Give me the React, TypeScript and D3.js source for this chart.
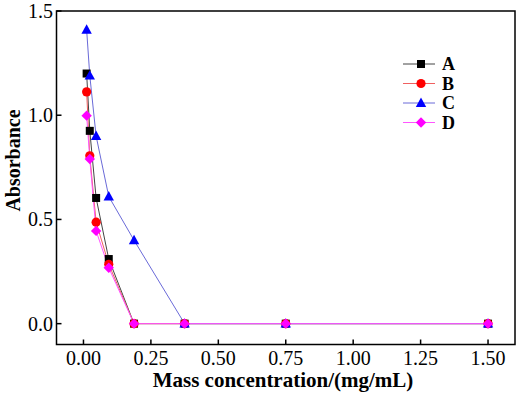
import React from "react";
import * as d3 from "d3";

const concentrations = [0.0117, 0.0234, 0.0469, 0.09375, 0.1875, 0.375, 0.75, 1.5];
const seriesA = [1.2, 0.925, 0.603, 0.31, 0, 0, 0, 0];
const seriesB = [1.112, 0.805, 0.487, 0.285, 0, 0, 0, 0];
const seriesC = [1.41, 1.19, 0.9, 0.61, 0.4, 0, 0, 0];
const seriesD = [0.998, 0.79, 0.445, 0.268, 0, 0, 0, 0];
const seriesNames = ["A", "B", "C", "D"];
const xTicks = [0, 0.25, 0.5, 0.75, 1.0, 1.25, 1.5];
const yTicks = [0, 0.5, 1.0, 1.5];
const xTitle = "Mass concentration/(mg/mL)";
const yTitle = "Absorbance";

const W = 519;
const H = 397;
const L = 56.5, R = 515, T = 11, B = 344.5;
const FONT = "Liberation Serif, Times New Roman, Times, serif";

const colors = ["#000000", "#ff0000", "#0000ff", "#ff00ff"];
const lineColors = ["#444444", "#f06060", "#6a6ad8", "#ff55ff"];
const shapes = ["square", "circle", "triangle", "diamond"];

function Marker({ shape, x, y, color }: { shape: string; x: number; y: number; color: string }) {
  if (shape === "square") return <rect x={x - 4} y={y - 4} width={8} height={8} fill={color} />;
  if (shape === "circle") return <circle cx={x} cy={y} r={4.6} fill={color} />;
  if (shape === "triangle") {
    const s = 5.2;
    return <path d={`M${x},${y - s * 1.05} L${x + s},${y + s * 0.75} L${x - s},${y + s * 0.75} Z`} fill={color} />;
  }
  const s = 5.2;
  return <path d={`M${x},${y - s} L${x + s},${y} L${x},${y + s} L${x - s},${y} Z`} fill={color} />;
}

export default function App() {
  const x = d3.scaleLinear().domain([-0.1, 1.6]).range([L, R]);
  const y = d3.scaleLinear().domain([-0.1, 1.5]).range([B, T]);
  const all = [seriesA, seriesB, seriesC, seriesD];
  const line = d3
    .line<number>()
    .x((_, i) => x(concentrations[i]))
    .y((d) => y(d));
  const legendX0 = 403, legendX1 = 435, legendY0 = 64, legendDy = 19.5;

  return (
    <svg width={W} height={H} style={{ position: "absolute", left: 0, top: 0, background: "#fff", fontFamily: FONT }}>
      <rect x={0} y={0} width={W} height={H} fill="#fff" />
      {all.map((s, k) => (
        <path key={"l" + k} d={line(s) || ""} fill="none" stroke={lineColors[k]} strokeWidth={1} />
      ))}
      {all.map((s, k) =>
        s.map((v, i) => (
          <Marker key={"m" + k + "-" + i} shape={shapes[k]} x={x(concentrations[i])} y={y(v)} color={colors[k]} />
        ))
      )}
      <rect x={L} y={T} width={R - L} height={B - T} fill="none" stroke="#000" strokeWidth={1.5} />
      {xTicks.map((t) => (
        <g key={"xt" + t}>
          <line x1={x(t)} x2={x(t)} y1={B} y2={B - 5} stroke="#000" strokeWidth={1.5} />
          <text x={x(t)} y={365} textAnchor="middle" style={{ fontFamily: FONT, fontSize: 20 }}>
            {t.toFixed(2)}
          </text>
        </g>
      ))}
      {yTicks.map((t) => (
        <g key={"yt" + t}>
          <line x1={L} x2={L + 5} y1={y(t)} y2={y(t)} stroke="#000" strokeWidth={1.5} />
          <text x={53} y={y(t) + 7} textAnchor="end" style={{ fontFamily: FONT, fontSize: 20 }}>
            {t.toFixed(1)}
          </text>
        </g>
      ))}
      <text x={283} y={387} textAnchor="middle" style={{ fontFamily: FONT, fontSize: 21, fontWeight: "bold" }}>
        {xTitle}
      </text>
      <text
        transform={`translate(19.5,160.5) rotate(-90)`}
        textAnchor="middle"
        style={{ fontFamily: FONT, fontSize: 20, fontWeight: "bold" }}
      >
        {yTitle}
      </text>
      {seriesNames.map((n, k) => {
        const ly = legendY0 + k * legendDy;
        return (
          <g key={"lg" + n}>
            <line x1={legendX0} x2={legendX1} y1={ly} y2={ly} stroke={lineColors[k]} strokeWidth={1} />
            <Marker shape={shapes[k]} x={(legendX0 + legendX1) / 2 + 2} y={ly} color={colors[k]} />
            <text x={442} y={ly + 6} style={{ fontFamily: FONT, fontSize: 18, fontWeight: "bold" }}>
              {n}
            </text>
          </g>
        );
      })}
    </svg>
  );
}
